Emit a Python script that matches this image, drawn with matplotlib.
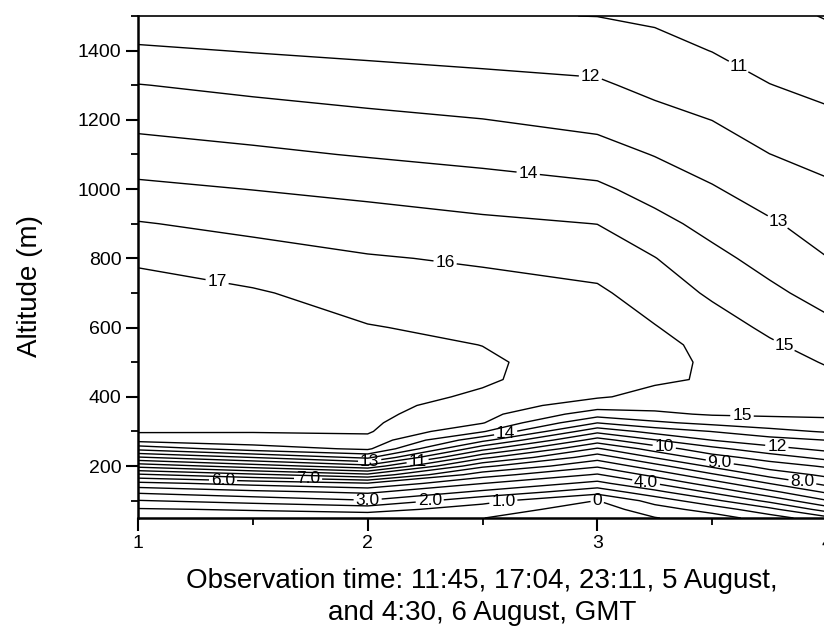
import matplotlib.pyplot as plt
import numpy as np

plt.rcParams['font.family'] = ['Liberation Sans', 'DejaVu Sans']

# altitude rows (m) and observation columns
alt = [50, 75, 100, 125, 150, 175, 200, 225, 250, 275, 300, 325, 350, 375,
       400, 450, 500, 550, 600, 700, 800, 900, 1000, 1100, 1200, 1300, 1400, 1500]
obs = [1, 1.5, 2, 2.5, 3, 3.25, 3.5, 3.75, 4]

# temperature profile read at each observation column
t_100 = [0.4, 0.9, 1.95, 3.18, 4.73, 6.83, 9.33, 11.89, 14.33, 16.36, 17.1, 17.25, 17.35, 17.45,
         17.5, 17.6, 17.65, 17.65, 17.6, 17.4, 16.85, 16.06, 15.22, 14.44, 13.71, 13.03, 12.15, 11.3]
t_150 = [0.35, 1.1, 2.39, 3.74, 5.33, 7.78, 10.5, 13.02, 15.5, 16.63, 17.05, 17.2, 17.3, 17.38,
         17.45, 17.5, 17.5, 17.45, 17.35, 17.1, 16.43, 15.73, 14.98, 14.19, 13.48, 12.76, 11.95, 11.2]
t_200 = [0.3, 1.39, 2.93, 4.18, 5.92, 8.78, 11.67, 14.22, 16.18, 16.75, 17.1, 17.15, 17.25, 17.3,
         17.35, 17.38, 17.35, 17.25, 17.05, 16.57, 16.08, 15.45, 14.74, 13.93, 13.24, 12.52, 11.79, 11.1]
t_250 = [0.02, 0.53, 1.31, 2.78, 4.02, 5.44, 7.23, 9.25, 11.33, 13.29, 15.1, 16.06, 16.33, 16.6,
         16.87, 17.12, 17.12, 16.99, 16.78, 16.35, 15.88, 15.2, 14.45, 13.7, 13.02, 12.32, 11.65, 11.05]
t_300 = [-1.0, -0.5, -0.02, 1.35, 2.7, 3.9, 5.15, 6.44, 7.88, 9.57, 11.29, 13.02, 14.48, 15.45,
         16.1, 16.45, 16.6, 16.6, 16.5, 16.16, 15.58, 14.99, 14.19, 13.4, 12.71, 12.13, 11.56, 10.99]
t_325 = [-0.05, 0.56, 1.37, 2.68, 4.02, 5.32, 6.63, 8.06, 9.44, 10.94, 12.37, 13.81, 14.81, 15.32,
         15.71, 16.15, 16.3, 16.3, 16.05, 15.54, 15.03, 14.31, 13.62, 12.96, 12.31, 11.76, 11.3, 10.85]
t_350 = [0.5, 1.42, 2.74, 4.17, 5.53, 6.84, 8.2, 9.57, 10.71, 12.02, 13.02, 14.29, 15.1, 15.4,
         15.65, 15.9, 15.85, 15.7, 15.45, 14.85, 14.27, 13.68, 13.08, 12.53, 11.99, 11.48, 10.98, 10.6]
t_375 = [1.5, 2.72, 4.29, 5.72, 7.02, 8.35, 9.44, 10.48, 11.67, 12.6, 13.68, 14.58, 15.15, 15.35,
         15.5, 15.6, 15.5, 15.13, 14.82, 14.21, 13.65, 13.11, 12.56, 12.01, 11.51, 11.02, 10.6, 10.25]
t_400 = [2.7, 4.47, 5.94, 7.15, 8.31, 9.24, 10.15, 11.33, 12.26, 13.02, 14.11, 14.78, 15.15, 15.3,
         15.4, 15.3, 14.91, 14.59, 14.25, 13.62, 13.02, 12.59, 12.16, 11.69, 11.19, 10.75, 10.35, 9.95]

levels = list(range(0, 18))

# label value and where it sits (time, altitude)
lab_val = [17, 16, 14, 12, 11, 13, 15, 15, 14, 13, 11, 10, 12, 9, 8, 4, 0, 1, 2, 3, 6, 7]
lab_pos = [(1.35, 754), (2.34, 803), (2.70, 1052), (2.97, 1322), (3.61, 1348), (3.78, 899),
           (3.81, 545), (3.63, 348), (2.60, 299), (2.01, 209), (2.22, 203), (3.29, 249),
           (3.78, 246), (3.53, 197), (3.89, 142), (3.21, 145), (3.0, 101), (2.59, 101),
           (2.27, 101), (2.0, 101), (1.37, 151), (1.74, 151)]


def fmt(v):
    if v == 0:
        return '0'
    if v < 10:
        return '%.1f' % v
    return '%d' % v


fig = plt.figure(figsize=(8.24, 6.33), dpi=100)
ax = fig.add_axes([138 / 824, (633 - 518) / 633, (827 - 138) / 824, (518 - 16) / 633])

X, Y = np.meshgrid(obs, alt)
Z = np.column_stack([t_100, t_150, t_200, t_250, t_300, t_325, t_350, t_375, t_400])

# one contour set per level so every label lands on its own line
for lev in levels:
    cs = ax.contour(X, Y, Z, levels=[lev], colors='black', linewidths=1.0)
    pts = [p for v, p in zip(lab_val, lab_pos) if v == lev]
    if pts:
        txt = cs.clabel(manual=pts, fmt=fmt, fontsize=12.5, inline=True, inline_spacing=2)
        for t in txt:
            t.set_rotation(0)

ax.set_xlim(1, 4)
ax.set_ylim(50, 1500)
ax.set_xticks([1, 2, 3, 4])
ax.set_xticks([1.5, 2.5, 3.5], minor=True)
ax.set_yticks(range(200, 1401, 200))
ax.set_yticks(range(100, 1501, 200), minor=True)
ax.tick_params(which='major', direction='out', length=9, width=1.5, labelsize=14, pad=3)
ax.tick_params(which='minor', direction='out', length=5, width=1.3)

for s in ['left', 'bottom']:
    ax.spines[s].set_linewidth(1.8)
ax.spines['top'].set_linewidth(1.2)
ax.spines['right'].set_visible(False)

fig.text(482 / 824, 1 - 597 / 633,
         'Observation time: 11:45, 17:04, 23:11, 5 August,\nand 4:30, 6 August, GMT',
         ha='center', va='center', fontsize=20, linespacing=1.25)
fig.text(30 / 824, 1 - 286 / 633, 'Altitude (m)', rotation=90,
         ha='center', va='center', fontsize=20)

fig.savefig('out.png', dpi=100)
